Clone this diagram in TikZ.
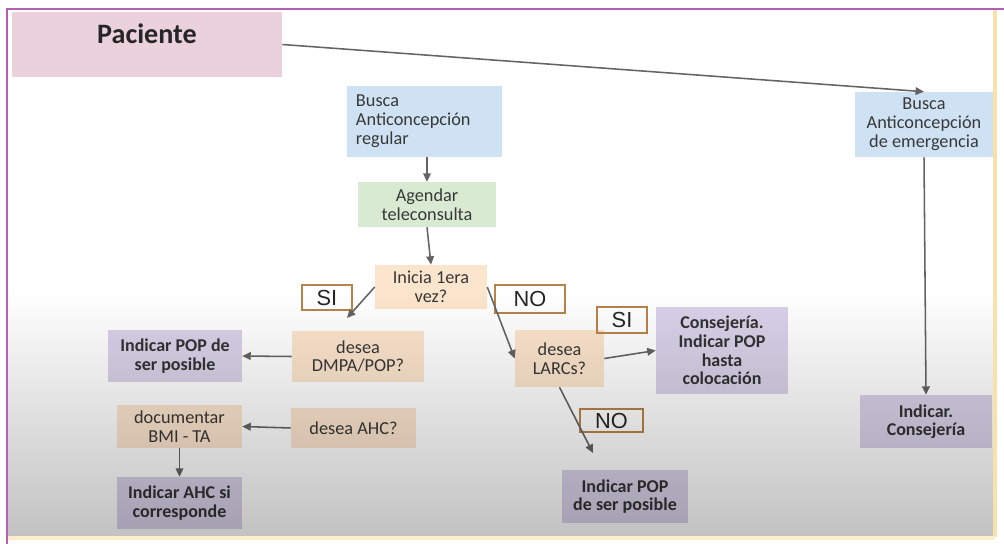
\documentclass[tikz,border=0pt]{standalone}
\usepackage{fontspec}
\setmainfont{Carlito}
\newfontfamily\labelfont{Liberation Sans}
\usetikzlibrary{positioning,arrows.meta,calc}
\usepackage{xcolor}
\definecolor{pacpink}{HTML}{EAD1DC}
\definecolor{boxblue}{HTML}{CFE2F3}
\definecolor{boxgreen}{HTML}{D9EAD3}
\definecolor{boxpeach}{HTML}{FCE5CD}
\definecolor{boxlila}{HTML}{D9D2E9}
\definecolor{txtgray}{HTML}{383838}
\definecolor{arrgray}{HTML}{646464}
\definecolor{tagbrown}{HTML}{B9844A}
\definecolor{framepurple}{HTML}{B25FB4}
\definecolor{frameyellow}{HTML}{FAE1AA}
\definecolor{framecream}{HTML}{FCEEC8}

\begin{document}
\begin{tikzpicture}[x=0.025cm,y=-0.025cm,
  every node/.style={font=\fontsize{13}{13.4}\selectfont, text=txtgray, inner sep=0pt, align=center},
  caja/.style={fill=#1},
  negrita/.style={font=\fontsize{12.8}{13.2}\selectfont\bfseries, text=black!80},
  tag/.style={draw=tagbrown, line width=1.8pt, font=\labelfont\fontsize{15.5}{16}\selectfont, text=black!85},
  flecha/.style={draw=arrgray, line width=1.1pt, -{Triangle[length=6pt,width=5.5pt]}}]
\useasboundingbox (0,0) rectangle (1004,544);
\fill[white] (0,0) rectangle (1004,544);

% cajas
\node[caja=pacpink, minimum width=6.75cm, minimum height=1.625cm, text depth=0.55cm,
  font=\fontsize{20}{20}\selectfont\bfseries, text=black!85] (pac) at (147,44.5) {Paciente};
\node[caja=boxblue, minimum width=3.875cm, minimum height=1.775cm, text width=3.425cm,
  inner xsep=0.225cm, align=left] (reg) at (424.5,121.5) {Busca\\Anticoncepción\\regular};
\node[caja=boxgreen, minimum width=3.45cm, minimum height=1.125cm] (agenda) at (427,204.5) {Agendar\\teleconsulta};
\node[caja=boxpeach, minimum width=2.8cm, minimum height=1.1cm] (inicia) at (431,287) {Inicia 1era\\vez?};
\node[caja=boxpeach, minimum width=3.3cm, minimum height=1.275cm] (dmpa) at (358,356.5) {desea\\DMPA/POP?};
\node[caja=boxlila, negrita, minimum width=3.35cm, minimum height=1.3cm] (pop1) at (175,356) {Indicar POP de\\ser posible};
\node[caja=boxpeach, minimum width=3.125cm, minimum height=1.075cm] (doc) at (179.5,426.5) {documentar\\BMI - TA};
\node[caja=boxpeach, minimum width=3.125cm, minimum height=1.0cm] (ahc) at (353.5,428) {desea AHC?};
\node[caja=boxlila, negrita, minimum width=3.125cm, minimum height=1.3cm] (ahcsi) at (179.5,503) {Indicar AHC si\\corresponde};
\node[caja=boxpeach, minimum width=2.225cm, minimum height=1.425cm] (larcs) at (559.5,358.5) {desea\\LARCs?};
\node[caja=boxlila, negrita, minimum width=3.3cm, minimum height=2.175cm] (consej) at (722,350.5) {Consejería.\\Indicar POP\\hasta\\colocación};
\node[caja=boxlila, negrita, minimum width=3.15cm, minimum height=1.325cm] (pop2) at (625,496.5) {Indicar POP\\de ser posible};
\node[caja=boxblue, minimum width=3.45cm, minimum height=1.625cm] (emerg) at (924,124.5) {Busca\\Anticoncepción\\de emergencia};
\node[caja=boxlila, negrita, minimum width=3.3cm, minimum height=1.325cm] (indcons) at (926,421.5) {Indicar.\\Consejería};

% etiquetas
\node[tag, minimum width=1.25cm, minimum height=0.625cm] (si1) at (327,297.5) {SI};
\node[tag, minimum width=1.75cm, minimum height=0.7cm] (no1) at (530,299) {NO};
\node[tag, minimum width=1.25cm, minimum height=0.65cm] (si2) at (622,320) {SI};
\node[tag, minimum width=1.575cm, minimum height=0.575cm] (no2) at (611.5,420.5) {NO};

% flechas
\coordinate (dmpaend) at (347,318);
\coordinate (pop2end) at (593,453);
\draw[flecha] (pac.east) -- (emerg.north);
\draw[flecha] (reg.south -| agenda.north) -- (agenda.north);
\draw[flecha] (agenda.south) -- (inicia.north);
\draw[flecha] (inicia.west) -- (dmpaend);
\draw[flecha] (inicia.east) -- (larcs.west);
\draw[flecha] (dmpa.west) -- (pop1.east);
\draw[flecha] (ahc.west) -- (doc.east);
\draw[flecha] (doc.south) -- (ahcsi.north);
\draw[flecha] (larcs.east) -- (consej.west);
\draw[flecha] (larcs.south) -- (pop2end);
\draw[flecha] (emerg.south) -- (indcons.north);

% sombra inferior
\begin{scope}[blend mode=multiply]
\shade[top color=white, bottom color=black!24] (8,290) rectangle (994,536);
\end{scope}

% marco
\draw[frameyellow, line width=2.2pt] (995,9) -- (995,537);
\draw[framecream, line width=3.5pt] (7,538) -- (995,538);
\draw[framepurple, line width=1.8pt] (7,544) -- (7,9) -- (1004,9);
\end{tikzpicture}
\end{document}
